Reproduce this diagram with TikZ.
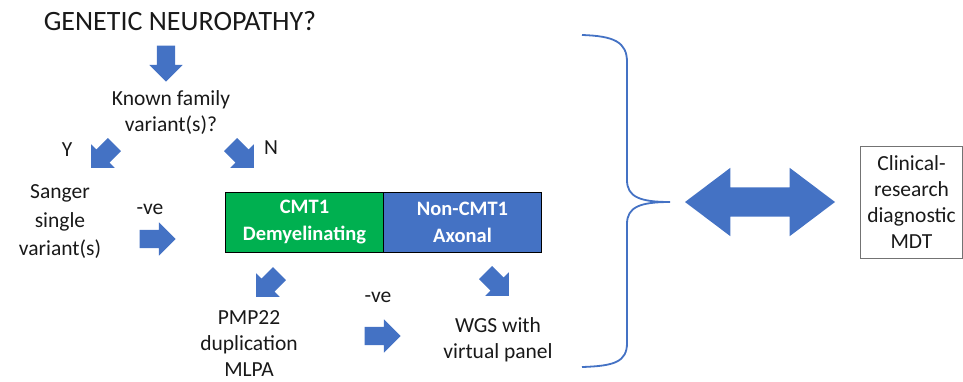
\documentclass[tikz,border=0pt]{standalone}
\usepackage{fontspec}
\setmainfont{Carlito}
\usetikzlibrary{shapes.arrows,positioning}
\definecolor{officeblue}{HTML}{4472C4}
\definecolor{officegreen}{HTML}{00B050}

\begin{document}
\begin{tikzpicture}[x=1pt, y=-1pt,
  txt/.style={align=center, font=\fontsize{21.5}{26}\selectfont, inner sep=0pt, text=black!90},
  blockarrow/.style={single arrow, fill=officeblue, draw=none, inner xsep=0pt, inner ysep=9pt,
                     minimum width=0pt, minimum height=36pt, single arrow head extend=7.5pt},
  tilt/.style={blockarrow, inner ysep=9pt, minimum height=33pt, single arrow head extend=7.5pt},
  half/.style={draw=black, line width=0.8pt, minimum width=158pt, minimum height=60pt, align=center,
               text=white, font=\fontsize{20.5}{27}\selectfont\bfseries, inner sep=0pt},
  brace/.style={draw=officeblue, line width=1.8pt}
]
\useasboundingbox (0,0) rectangle (963,381);

% Question and first split
\node[txt, font=\fontsize{28}{32}\selectfont] (title) at (180,21) {GENETIC NEUROPATHY?};
\node[blockarrow, rotate=-90] (a0) at (166,59) {};
\node[txt] (known) at (171,113) {Known family\\variant(s)?};
\node[tilt, rotate=-135] (ay) at (106,153) {};
\node[txt] (yes) at (67,150) {Y};
\node[tilt, rotate=-45] (an) at (239,153) {};
\node[txt] (no) at (271,148) {N};

% Known variant branch
\node[txt, font=\fontsize{21.5}{28.5}\selectfont] (sanger) at (60,222) {Sanger\\single\\variant(s)};
\node[txt] (neg1) at (150,209) {-ve};
\node[blockarrow] (a1) at (153,239) {};

% Phenotype split
\node[half, fill=officegreen] (cmt) at (304.5,222) {CMT1\\Demyelinating};
\node[half, fill=officeblue, right=-0.8pt of cmt] (noncmt) {Non-CMT1\\Axonal};

% Testing
\node[tilt, rotate=-135] (ac) at (271,282) {};
\node[tilt, rotate=-45] (ax) at (494,281) {};
\node[txt] (pmp) at (249,344) {PMP22\\duplication\\MLPA};
\node[txt] (neg2) at (378,297) {-ve};
\node[blockarrow] (a2) at (378,336) {};
\node[txt] (wgs) at (498,340) {WGS with\\virtual panel};

% Brace and link to MDT
\coordinate (bracetip) at (670,202);
\draw[brace] (582,35) .. controls (614,36) and (627,42) .. (627,62) -- (627,180)
  .. controls (627,197) and (640,202) .. (bracetip)
  .. controls (640,202) and (627,207) .. (627,224) -- (627,343)
  .. controls (627,362) and (614,366) .. (582,367);
\node[double arrow, fill=officeblue, inner xsep=0pt, inner ysep=14.5pt, minimum width=0pt,
      minimum height=150pt, double arrow head extend=19.5pt, double arrow tip angle=74] (link) at (760,202) {};
\node[txt, draw=black!55, line width=0.8pt, minimum width=102pt, minimum height=112pt] (mdt) at (911.5,202)
  {Clinical-\\research\\diagnostic\\MDT};
\end{tikzpicture}
\end{document}
